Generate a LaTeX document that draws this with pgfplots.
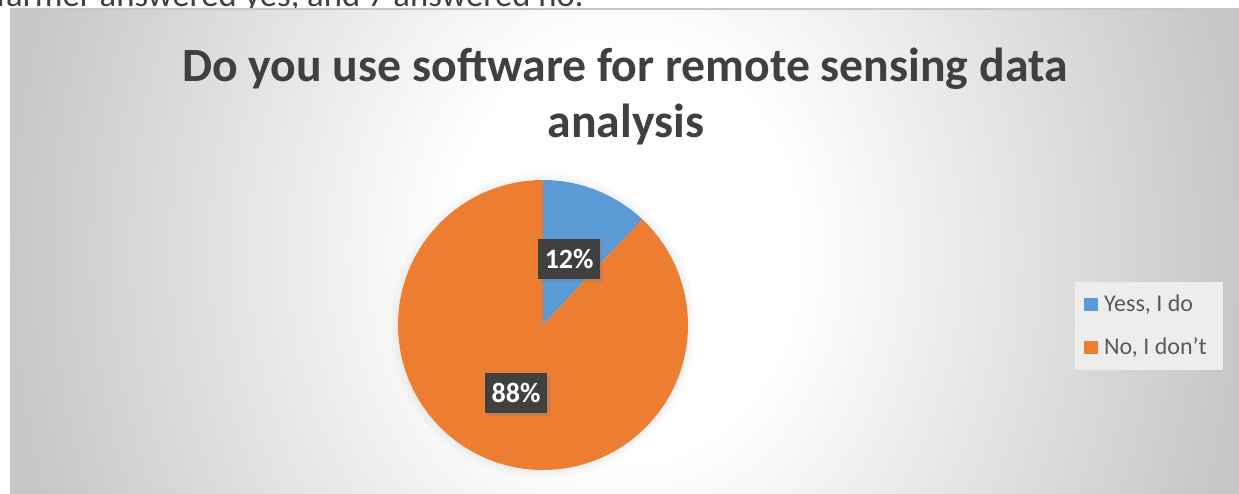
\documentclass[border=0pt]{standalone}
\usepackage{pgfplots}
\pgfplotsset{compat=1.18}
\usepackage{pgfplotstable}
\usepackage{fontspec}
\setmainfont{Carlito}
\usetikzlibrary{shadows}
\definecolor{cblue}{HTML}{5B9BD5}
\definecolor{corange}{HTML}{ED7D31}
\definecolor{ctitle}{HTML}{404040}
\definecolor{clegend}{HTML}{595959}
\pgfplotsset{squarelegend/.style={legend image code/.code={\fill[##1] (0pt,-4.9pt) rectangle (9.8pt,4.9pt);}}}
\pgfplotstableread{
label share
{Yess, I do} 12
{No, I don’t} 88
}\piedata
\pgfdeclareradialshading{chartbg}{\pgfpoint{0bp}{0bp}}{color(0bp)=(white); color(7bp)=(white); color(25bp)=(black!22); color(40bp)=(black!24); color(60bp)=(black!24)}
\begin{document}
\begin{tikzpicture}[x=0.75pt,y=0.75pt]
\useasboundingbox (0,0) rectangle (1239,493);
\fill[white] (0,0) rectangle (1239,493);
\begin{scope}
\clip (0,483) rectangle (1239,493);
\node[anchor=base west, inner sep=0, font=\fontsize{26}{30}\selectfont, text=ctitle] at (-4,486) {farmer answered yes, and 7 answered no.};
\end{scope}
\begin{scope}
\clip (10,0) rectangle (1239,483);
\shade[shading=chartbg] (10,-500) rectangle (1239,983);
\end{scope}
\draw[black!22, line width=1.5pt] (10,483.5) -- (1239,483.5);
\node[anchor=base, inner sep=0, font=\bfseries\fontsize{35.8}{40}\selectfont, text=ctitle] at (625,411) {Do you use software for remote sensing data};
\node[anchor=base, inner sep=0, font=\bfseries\fontsize{35.8}{40}\selectfont, text=ctitle] at (626,355) {analysis};
\pgfplotstablegetelem{0}{share}\of\piedata \let\va\pgfplotsretval
\pgfplotstablegetelem{1}{share}\of\piedata \let\vb\pgfplotsretval
\pgfplotstablegetelem{0}{label}\of\piedata \let\la\pgfplotsretval
\pgfplotstablegetelem{1}{label}\of\piedata \let\lb\pgfplotsretval
\pgfmathsetmacro\angA{90-3.6*\va}
\pgfmathsetmacro\angB{\angA-3.6*\vb}
\pgfmathsetmacro\midA{90-1.8*\va}
\pgfmathsetmacro\midB{\angA-1.8*\vb}
\begin{axis}[at={(298.5pt,17.25pt)}, anchor=south west, width=217.5pt, height=217.5pt,
  scale only axis, xmin=-1, xmax=1, ymin=-1, ymax=1, hide axis, clip=false,
  legend style={at={(2.334,0.65)}, anchor=north west, fill=black!7, draw=none,
    font=\fontsize{18}{21}\selectfont, text=clegend, row sep=14pt,
    inner xsep=7pt, inner ysep=8pt, column sep=0pt,
    nodes={inner xsep=5pt}},
  legend cell align=left]
\addlegendimage{fill=cblue, draw=none, squarelegend}
\addlegendentry{\la}
\addlegendimage{fill=corange, draw=none, squarelegend}
\addlegendentry{\lb}
\fill[white, circular drop shadow={shadow xshift=0pt, shadow yshift=0pt, shadow scale=1.06, opacity=0.25}] (axis cs:0,0) circle[radius=108.75pt];
\fill[cblue] (axis cs:0,0) -- (axis cs:0,1) arc[start angle=90, end angle=\angA, radius=108.75pt] -- cycle;
\fill[corange] (axis cs:0,0) -- (axis cs:{cos(\angA)},{sin(\angA)}) arc[start angle=\angA, end angle=\angB, radius=108.75pt] -- cycle;
\node[fill=black!75, text=white, font=\bfseries\fontsize{21}{22}\selectfont, minimum width=47pt, minimum height=30pt, inner sep=0pt,
  drop shadow={shadow xshift=2pt, shadow yshift=-2pt, opacity=0.35}] at (axis cs:{0.49*cos(\midA)},{0.49*sin(\midA)}) {\va\%};
\node[fill=black!75, text=white, font=\bfseries\fontsize{21}{22}\selectfont, minimum width=47pt, minimum height=30pt, inner sep=0pt,
  drop shadow={shadow xshift=2pt, shadow yshift=-2pt, opacity=0.35}] at (axis cs:{0.505*cos(\midB)},{0.505*sin(\midB)}) {\vb\%};
\end{axis}
\end{tikzpicture}
\end{document}
